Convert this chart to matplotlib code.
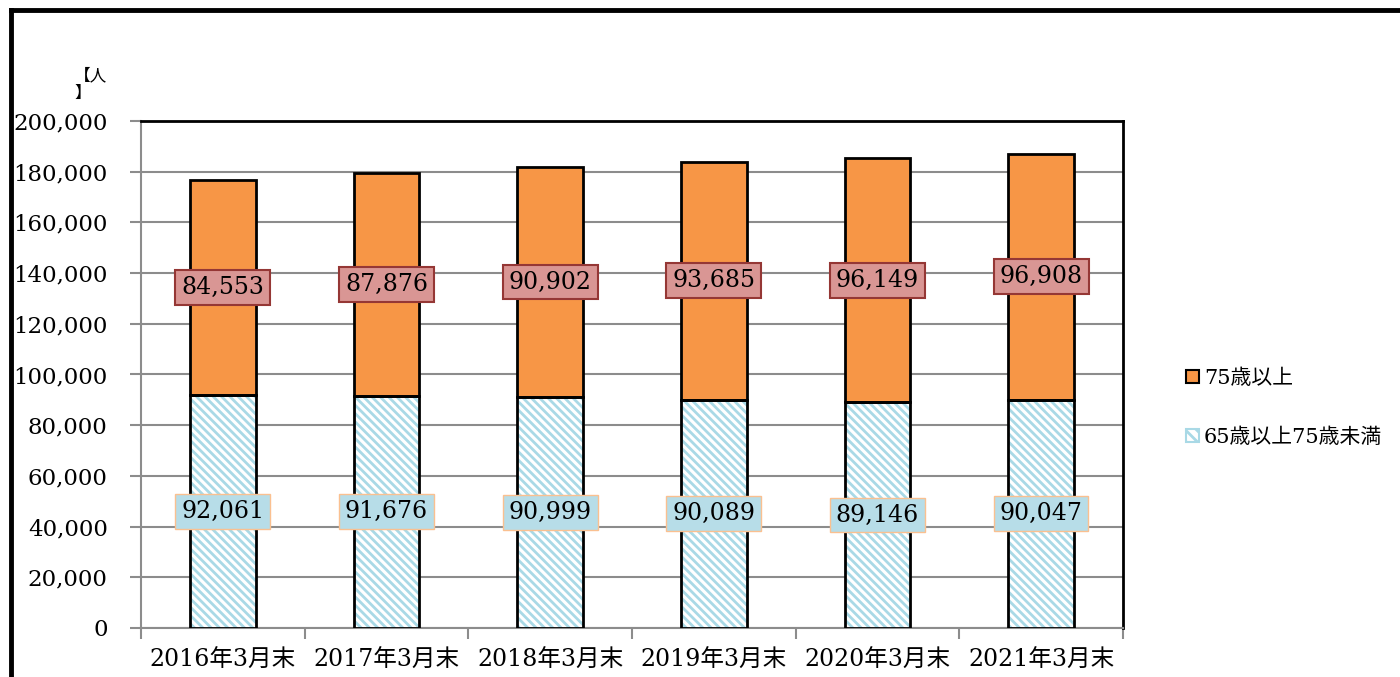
import matplotlib.pyplot as plt
from matplotlib.patches import Patch
from matplotlib.lines import Line2D
import numpy as np

plt.rcParams['font.family'] = ['DejaVu Serif', 'Noto Sans CJK JP']
plt.rcParams['hatch.linewidth'] = 2.0

categories = ['2016年3月末', '2017年3月末', '2018年3月末', '2019年3月末', '2020年3月末', '2021年3月末']
young_old = [92061, 91676, 90999, 90089, 89146, 90047]   # 65歳以上75歳未満
old_old = [84553, 87876, 90902, 93685, 96149, 96908]     # 75歳以上
yticks = np.arange(0, 200001, 20000)

orange = '#F79646'
stripe = '#A9D9E6'

fig = plt.figure(figsize=(14, 6.77), dpi=100)
ax = fig.add_axes([0.1007, 0.0724, 0.7014, 0.7489])

x = np.arange(len(categories))
w = 0.4

# hatched lower segment (stripes drawn in light blue, outline separately)
ax.bar(x, young_old, w, color='white', edgecolor=stripe, hatch='\\\\\\\\', linewidth=0, zorder=3)
ax.bar(x, young_old, w, fill=False, edgecolor='black', linewidth=2, zorder=4)
ax.bar(x, old_old, w, bottom=young_old, color=orange, edgecolor='black', linewidth=2, zorder=3)

for i in range(len(x)):
    ax.text(x[i], young_old[i] / 2, f'{young_old[i]:,}', ha='center', va='center',
            fontsize=17, zorder=6,
            bbox=dict(boxstyle='square,pad=0.25', facecolor='#B7DDE8', edgecolor='#FAC090', linewidth=1))
    ax.text(x[i], young_old[i] + old_old[i] / 2, f'{old_old[i]:,}', ha='center', va='center',
            fontsize=17, zorder=6,
            bbox=dict(boxstyle='square,pad=0.25', facecolor='#D99694', edgecolor='#953735', linewidth=1.5))

ax.set_xlim(-0.5, len(x) - 0.5)
ax.set_ylim(0, 200000)
ax.set_yticks(yticks)
ax.set_yticklabels([f'{v:,}' for v in yticks], fontsize=16.5)
ax.yaxis.grid(True, color='#8C8C8C', linewidth=1.5, zorder=0)
ax.set_axisbelow(True)

# category labels centred, tick marks between categories
ax.set_xticks(x)
ax.set_xticklabels(categories, fontsize=17)
ax.tick_params(axis='x', length=0, pad=15)
ax.set_xticks(np.arange(-0.5, len(x)), minor=True)
ax.tick_params(axis='x', which='minor', length=8, width=1.5, color='#8C8C8C', direction='out')
ax.tick_params(axis='y', length=8, width=1.5, color='#8C8C8C', direction='out', pad=16)

ax.spines['left'].set_color('#8C8C8C')
ax.spines['bottom'].set_color('#8C8C8C')
ax.spines['left'].set_linewidth(1.5)
ax.spines['bottom'].set_linewidth(1.5)
ax.spines['top'].set_linewidth(2)
ax.spines['right'].set_linewidth(2)

fig.text(0.053, 0.9, '【人\n】', fontsize=12, ha='left', va='top', linespacing=1.0,
         family=['Noto Sans CJK JP'])

handles = [Patch(facecolor=orange, edgecolor='black', linewidth=1.5, label='75歳以上'),
           Patch(facecolor='white', edgecolor=stripe, hatch='\\\\\\', linewidth=1.5, label='65歳以上75歳未満')]
leg = fig.legend(handles=handles, loc='center left', bbox_to_anchor=(0.834, 0.398),
                 frameon=False, fontsize=15, handlelength=0.6, handleheight=0.6,
                 handletextpad=0.25, labelspacing=1.9)

# outer chart frame (top and left edges visible)
fig.add_artist(Line2D([0.0075, 0.0075], [0, 0.985], color='black', linewidth=3.5, transform=fig.transFigure))
fig.add_artist(Line2D([0.0075, 1.0], [0.985, 0.985], color='black', linewidth=3.5, transform=fig.transFigure))

fig.savefig('out.png', dpi=100)
